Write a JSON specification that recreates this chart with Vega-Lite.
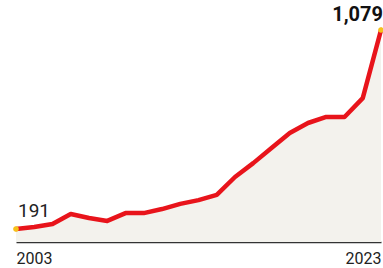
{
  "$schema": "https://vega.github.io/schema/vega-lite/v6.json",
  "width": 365,
  "height": 212,
  "autosize": {"type": "none"},
  "padding": {"left": 16, "right": 2, "top": 30, "bottom": 26},
  "background": "white",
  "config": {"view": {"stroke": null}, "font": "Roboto"},
  "data": {
    "values": [
      {"year": 2003, "value": 191},
      {"year": 2004, "value": 200},
      {"year": 2005, "value": 213},
      {"year": 2006, "value": 258},
      {"year": 2007, "value": 240},
      {"year": 2008, "value": 227},
      {"year": 2009, "value": 262},
      {"year": 2010, "value": 262},
      {"year": 2011, "value": 280},
      {"year": 2012, "value": 303},
      {"year": 2013, "value": 320},
      {"year": 2014, "value": 343},
      {"year": 2015, "value": 423},
      {"year": 2016, "value": 485},
      {"year": 2017, "value": 552},
      {"year": 2018, "value": 619},
      {"year": 2019, "value": 664},
      {"year": 2020, "value": 691},
      {"year": 2021, "value": 691},
      {"year": 2022, "value": 775},
      {"year": 2023, "value": 1079}
    ]
  },
  "encoding": {
    "x": {
      "field": "year",
      "type": "quantitative",
      "scale": {"domain": [2003, 2023], "nice": false, "zero": false},
      "axis": {
        "title": null,
        "values": [2003, 2023],
        "format": "d",
        "grid": false,
        "ticks": false,
        "domainColor": "#333333",
        "domainWidth": 1.5,
        "labelFontSize": 16,
        "labelColor": "#222222",
        "labelPadding": 8,
        "labelBaseline": "top",
        "labelAlign": {"expr": "datum.value == 2003 ? 'left' : 'right'"},
        "labelFlush": false
      }
    },
    "y": {
      "field": "value",
      "type": "quantitative",
      "scale": {"domain": [133, 1079], "nice": false, "zero": false},
      "axis": null
    }
  },
  "layer": [
    {"mark": {"type": "area", "color": "#f3f2ed", "clip": true}},
    {"mark": {"type": "line", "color": "#e8141b", "strokeWidth": 4.5, "strokeJoin": "round", "strokeCap": "round"}},
    {
      "transform": [{"filter": "datum.year == 2003 || datum.year == 2023"}],
      "mark": {"type": "circle", "color": "#f6c21a", "size": 30, "opacity": 1}
    },
    {
      "transform": [{"filter": "datum.year == 2003"}],
      "mark": {"type": "text", "align": "left", "baseline": "alphabetic", "dx": 2, "dy": -12, "fontSize": 19, "color": "#222222"},
      "encoding": {"text": {"field": "value", "type": "quantitative", "format": ","}}
    },
    {
      "transform": [{"filter": "datum.year == 2023"}],
      "mark": {"type": "text", "align": "right", "baseline": "alphabetic", "dx": 2, "dy": -9, "fontSize": 20, "fontWeight": "bold", "color": "#111111"},
      "encoding": {"text": {"field": "value", "type": "quantitative", "format": ","}}
    }
  ]
}
